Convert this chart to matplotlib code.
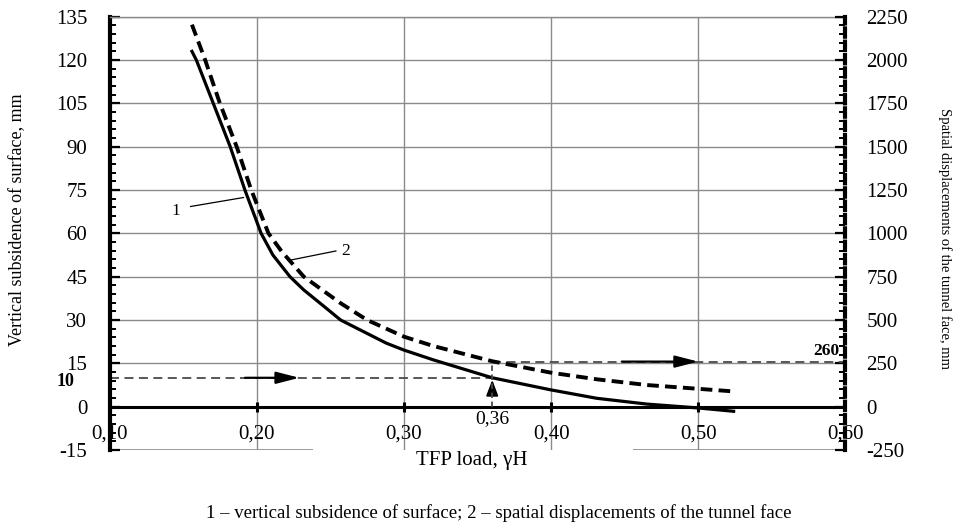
import matplotlib
matplotlib.use('Agg')
import matplotlib.pyplot as plt
from matplotlib.ticker import MultipleLocator
from matplotlib.transforms import blended_transform_factory

# ---- data ----
load_1 = [0.156, 0.159, 0.1705, 0.182, 0.192, 0.203, 0.211, 0.2226, 0.232, 0.246, 0.257,
          0.288, 0.300, 0.320, 0.360, 0.400, 0.431, 0.465, 0.500, 0.524]
subsidence = [123, 120, 105, 90, 75, 60, 52.5, 45, 40.4, 34.6, 30,
              22, 19.6, 16.2, 10.0, 5.8, 2.9, 0.9, -0.45, -1.6]

load_2 = [0.156, 0.165, 0.175, 0.1864, 0.1963, 0.208, 0.217, 0.232, 0.257, 0.275,
          0.300, 0.320, 0.360, 0.400, 0.431, 0.465, 0.500, 0.524]
displacement = [2204, 2000, 1750, 1500, 1250, 1000, 895, 750, 597, 500,
                404, 350, 262, 196, 158, 125, 103, 88]

x_ticks = [0.10, 0.20, 0.30, 0.40, 0.50, 0.60]
x_tick_labels = ['0,10', '0,20', '0,30', '0,40', '0,50', '0,60']
left_ticks = [-15, 0, 15, 30, 45, 60, 75, 90, 105, 120, 135]
right_ticks = [-250, 0, 250, 500, 750, 1000, 1250, 1500, 1750, 2000, 2250]

threshold_load = 0.36
threshold_subsidence = 10
threshold_displacement = 260

plt.rcParams['font.family'] = ['Liberation Serif', 'DejaVu Serif']
plt.rcParams['axes.unicode_minus'] = False

fig = plt.figure(figsize=(9.6, 5.22), dpi=100)
ax = fig.add_axes([109.5 / 960, 1 - 450 / 522, 736 / 960, 433.3 / 522])
ax2 = ax.twinx()

ax.set_xlim(0.10, 0.60)
ax.set_ylim(-15, 135)
ax2.set_ylim(-250, 2250)

grid_c = '#8a8a8a'
# grid lines
ax.hlines([t for t in left_ticks if t > 0], 0.10, 0.60, color=grid_c, lw=1.0, zorder=1)
ax.vlines(x_ticks[1:-1], -15, 135, color=grid_c, lw=1.0, zorder=1)
ax.hlines(-15, 0.10, 0.238, color=grid_c, lw=1.2, zorder=1)
ax.hlines(-15, 0.4556, 0.60, color=grid_c, lw=1.2, zorder=1)

# zero line with small ticks
ax.axhline(0, color='black', lw=2.2, zorder=3)
ax.plot(x_ticks[1:-1], [0] * 4, ls='none', marker='|', ms=7, mew=2.2, color='black', zorder=3)

# spines
for s in ['bottom', 'right']:
    ax.spines[s].set_visible(False)
ax.spines['top'].set_color(grid_c)
ax.spines['top'].set_linewidth(1.0)
ax.spines['left'].set_linewidth(3)
ax.spines['left'].set_color('black')
for s in ['bottom', 'left', 'top']:
    ax2.spines[s].set_visible(False)
ax2.spines['right'].set_linewidth(3)
ax2.spines['right'].set_linestyle((0, (2, 1.2)))

# ticks
ax.set_yticks(left_ticks)
ax.yaxis.set_minor_locator(MultipleLocator(3))
ax.tick_params(axis='y', which='major', direction='in', length=7, width=1.6, pad=16, labelsize=15)
ax.tick_params(axis='y', which='minor', direction='in', length=4, width=1.4)
ax2.set_yticks(right_ticks)
ax2.yaxis.set_minor_locator(MultipleLocator(50))
ax2.tick_params(axis='y', which='major', direction='in', length=7, width=1.6, pad=15, labelsize=15)
ax2.tick_params(axis='y', which='minor', direction='in', length=4, width=1.4)
ax.set_xticks(x_ticks, x_tick_labels)
ax.tick_params(axis='x', length=0, pad=-18, labelsize=15)

# guide lines
gc = '#4a4a4a'
ax.hlines(threshold_subsidence, 0.10, threshold_load, color=gc, lw=1.3, ls=(0, (5, 3)), zorder=2)
ax2.hlines(threshold_displacement, threshold_load, 0.60, color=gc, lw=1.3, ls=(0, (5, 3)), zorder=2)
ax2.vlines(threshold_load, 0, threshold_displacement, color=gc, lw=1.3, ls=(0, (3, 2)), zorder=2)

arrow = dict(arrowstyle='-|>,head_length=1.4,head_width=0.36', color='black', lw=1.6, shrinkA=0, shrinkB=0)
ax.annotate('', xy=(0.229, threshold_subsidence), xytext=(0.192, threshold_subsidence), arrowprops=arrow, zorder=4)
ax2.annotate('', xy=(0.500, threshold_displacement), xytext=(0.448, threshold_displacement), arrowprops=arrow, zorder=4)
arrow_v = dict(arrowstyle='-|>,head_length=0.95,head_width=0.36', color='black', lw=1.4, shrinkA=0, shrinkB=0)
ax.annotate('', xy=(threshold_load, 9.3), xytext=(threshold_load, 4.7), arrowprops=arrow_v, zorder=4)

# curves
ax.plot(load_1, subsidence, color='black', lw=2.3, zorder=5, solid_joinstyle='round')
ax2.plot(load_2, displacement, color='black', lw=2.8, ls=(0, (3, 1.6)), zorder=5, dash_joinstyle='round')

# curve labels
ax.plot([0.1551, 0.191], [69.3, 72.4], color='black', lw=0.9)
ax.text(0.145, 67.8, '1', fontsize=12.5, ha='center', va='center')
ax.plot([0.2235, 0.2538], [50.8, 53.9], color='black', lw=0.9)
ax.text(0.2605, 54, '2', fontsize=12.5, ha='center', va='center')

ax.text(threshold_load, -4.3, '0,36', fontsize=14, ha='center', va='center')
trans = blended_transform_factory(ax.transAxes, ax.transData)
ax.annotate('10', xy=(0, threshold_subsidence), xycoords=trans, xytext=(-25, -2.5),
            textcoords='offset points', fontsize=13, weight='bold', ha='right', va='center')
ax2.text(0.5868, 320, '260', fontsize=12.5, weight='bold', ha='center', va='center')

# axis titles
fig.text(18 / 960, 1 - 220 / 522, 'Vertical subsidence of surface, mm', rotation=90,
         ha='center', va='center', fontsize=13)
fig.text(945 / 960, 1 - 239 / 522, 'Spatial displacements of the tunnel face, mm', rotation=270,
         ha='center', va='center', fontsize=10.5)
fig.text(472 / 960, 1 - 461 / 522, 'TFP load, γH', ha='center', va='center', fontsize=15)
fig.text(499 / 960, 1 - 513 / 522,
         '1 – vertical subsidence of surface; 2 – spatial displacements of the tunnel face',
         ha='center', va='center', fontsize=13.5)

fig.savefig('out.png', dpi=100)
